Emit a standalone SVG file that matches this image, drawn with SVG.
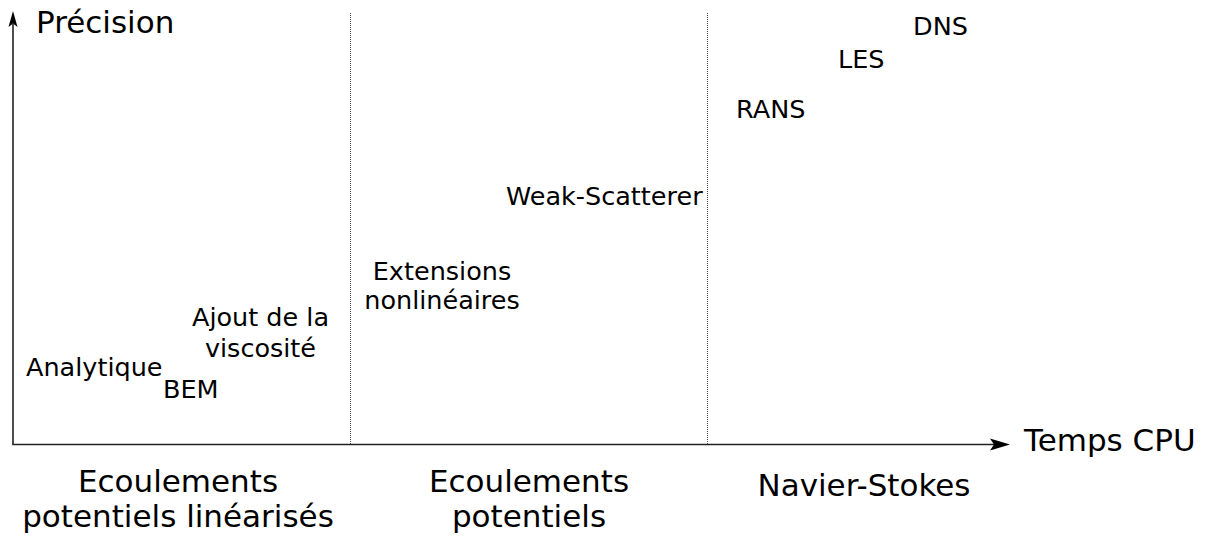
<svg xmlns="http://www.w3.org/2000/svg" width="1207" height="538" viewBox="0 0 1207 538">
<style>
text{font-family:"DejaVu Sans",sans-serif;fill:#000}
.s{font-size:25.5px}
.b{font-size:31px}
.ax{stroke:#222;stroke-width:1.6;fill:none}
.dot{stroke:#444;stroke-width:1;stroke-dasharray:1,1;fill:none}
.c{text-anchor:middle}
</style>
<rect width="1207" height="538" fill="#fff"/>
<g id="axes">
<path class="ax" d="M13 444.5 V24"/>
<path class="ax" d="M12.2 444.5 H996"/>
<polygon points="13,11 17.5,27 13,23.5 8.5,27" fill="#000"/>
<polygon points="1010,444.5 990,438.5 994,444.5 990,450.5" fill="#000"/>
<path class="dot" d="M350.5 13 V444"/>
<path class="dot" d="M707.5 13 V444"/>
</g>
<g id="axis-labels">
<text x="36" y="33" class="b">Précision</text>
<text x="1024" y="451" class="b">Temps CPU</text>
</g>
<g id="n-analytique"><text x="26" y="376" class="s">Analytique</text></g>
<g id="n-bem"><text x="163" y="398" class="s">BEM</text></g>
<g id="n-viscosite"><text x="260.5" y="326" class="s c">Ajout de la</text><text x="260.5" y="357" class="s c">viscosité</text></g>
<g id="n-extensions"><text x="442" y="280" class="s c">Extensions</text><text x="442" y="309" class="s c">nonlinéaires</text></g>
<g id="n-weak"><text x="506" y="205" class="s">Weak-Scatterer</text></g>
<g id="n-rans"><text x="736" y="118" class="s">RANS</text></g>
<g id="n-les"><text x="838" y="68" class="s">LES</text></g>
<g id="n-dns"><text x="913" y="35" class="s">DNS</text></g>
<g id="categories">
<text x="178" y="492" class="b c">Ecoulements</text>
<text x="178" y="527" class="b c">potentiels linéarisés</text>
<text x="529" y="492" class="b c">Ecoulements</text>
<text x="529" y="527" class="b c">potentiels</text>
<text x="864" y="496" class="b c">Navier-Stokes</text>
</g>
</svg>
